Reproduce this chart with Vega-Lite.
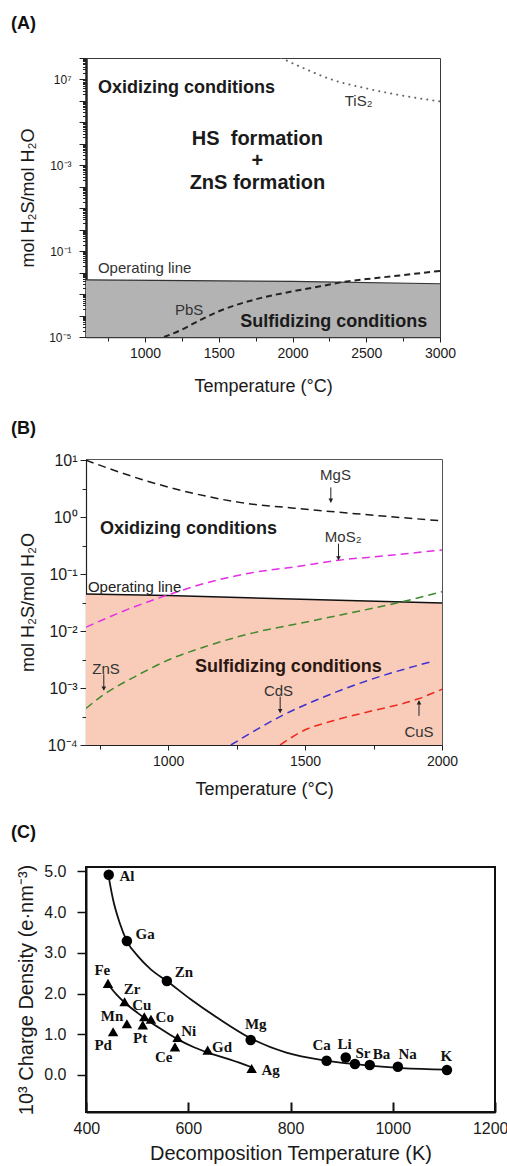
{
  "$schema": "https://vega.github.io/schema/vega-lite/v6.json",
  "padding": {"left": 10, "top": 14, "right": 0, "bottom": 0},
  "background": "white",
  "bounds": "flush",
  "spacing": 122,
  "config": {
    "font": "Liberation Sans",
    "view": {"stroke": null},
    "axis": {"grid": false, "labelFont": "Liberation Sans", "titleFont": "Liberation Sans", "labelColor": "#1a1a1a", "titleColor": "#1a1a1a", "titleFontWeight": "normal", "domainColor": "#222", "tickColor": "#222", "labelFlush": false, "labelOverlap": false},
    "title": {"font": "Liberation Sans", "fontWeight": "bold", "fontSize": 18, "anchor": "start", "frame": "group", "color": "#111", "baseline": "alphabetic"}
  },
  "vconcat": [
    {
      "width": 354, "height": 279,
      "view": {"stroke": "#3a3a3a", "strokeWidth": 1},
      "title": {"text": "(A)", "dx": -75, "offset": 19},
      "encoding": {
        "x": {"field": "x", "type": "quantitative", "scale": {"domain": [600, 3000], "nice": false, "zero": false},
          "axis": {"title": "Temperature (°C)", "titleFontSize": 18, "titleY": 54, "titleBaseline": "alphabetic",
            "values": [750, 1000, 1250, 1500, 1750, 2000, 2250, 2500, 2750, 3000],
            "labelExpr": "datum.value % 500 == 0 ? format(datum.value, 'd') : ''",
            "labelFontSize": 14, "labelPadding": 4,
            "tickSize": {"condition": {"test": "datum.value % 500 == 0", "value": 5}, "value": 4},
            "domainWidth": 1.5, "domainColor": "#3a3a3a"}},
        "y": {"field": "y", "type": "quantitative", "scale": {"type": "log", "domain": [1e-5, 1e8], "nice": false},
          "axis": {"title": "mol H₂S/mol H₂O", "titleFontSize": 18, "titleX": -53, "titleBaseline": "alphabetic",
            "values": [1e-5,2e-5,3e-5,4e-5,5e-5,6e-5,7e-5,8e-5,9e-5,1e-4,2e-4,3e-4,4e-4,5e-4,6e-4,7e-4,8e-4,9e-4,0.001,0.002,0.003,0.004,0.005,0.006,0.007,0.008,0.009,0.01,0.02,0.03,0.04,0.05,0.06,0.07,0.08,0.09,0.1,0.2,0.3,0.4,0.5,0.6,0.7,0.8,0.9,1,2,3,4,5,6,7,8,9,10,20,30,40,50,60,70,80,90,100,200,300,400,500,600,700,800,900,1000,2000,3000,4000,5000,6000,7000,8000,9000,1e4,2e4,3e4,4e4,5e4,6e4,7e4,8e4,9e4,1e5,2e5,3e5,4e5,5e5,6e5,7e5,8e5,9e5,1e6,2e6,3e6,4e6,5e6,6e6,7e6,8e6,9e6,1e7,2e7,3e7,4e7,5e7,6e7,7e7,8e7,9e7,1e8],
            "labelExpr": "datum.value == 1e-5 ? '10⁻⁵' : datum.value == 0.1 ? '10⁻¹' : datum.value == 1000 ? '10⁻³' : datum.value == 1e7 ? '10⁷' : ''",
            "labelFontSize": 12, "labelPadding": 8,
            "tickSize": {"condition": {"test": "abs(log(datum.value)/LN10 - round(log(datum.value)/LN10)) < 0.001", "value": 7}, "value": 3.5},
            "tickWidth": 1, "domainWidth": 2.5, "domainColor": "#222"}}
      },
      "layer": [
        {"data": {"values": [{"x": 600, "y": 0.00462}, {"x": 2000, "y": 0.00389}, {"x": 3000, "y": 0.00302}]},
         "mark": {"type": "area", "color": "#b3b3b3", "opacity": 1},
         "encoding": {"y2": {"datum": 1e-5}}},
        {"data": {"values": [{"x": 600, "y": 0.00462}, {"x": 2000, "y": 0.00389}, {"x": 3000, "y": 0.00302}]},
         "mark": {"type": "line", "color": "#333", "strokeWidth": 1.2}},
        {"data": {"values": [{"x": 1129, "y": 1e-5}, {"x": 1249, "y": 2.2e-5}, {"x": 1377, "y": 6.3e-5}, {"x": 1501, "y": 1.58e-4}, {"x": 1737, "y": 5.4e-4}, {"x": 2001, "y": 1.35e-3}, {"x": 2188, "y": 2.3e-3}, {"x": 2368, "y": 3.9e-3}, {"x": 2503, "y": 5.0e-3}, {"x": 2728, "y": 7.4e-3}, {"x": 3000, "y": 0.012}]},
         "mark": {"type": "line", "color": "#222", "strokeWidth": 2, "strokeDash": [6, 4], "interpolate": "monotone", "clip": true}},
        {"data": {"values": [{"x": 1924, "y": 1e8}, {"x": 2053, "y": 3.9e7}, {"x": 2278, "y": 9.3e6}, {"x": 2503, "y": 3.8e6}, {"x": 2728, "y": 1.86e6}, {"x": 3000, "y": 9.5e5}]},
         "mark": {"type": "line", "color": "#666", "strokeWidth": 2, "strokeDash": [0.1, 6], "strokeCap": "round", "interpolate": "monotone", "clip": true}},
        {"data": {"values": [{"x": 681, "y": 4.2e6, "label": "Oxidizing conditions"}]},
         "mark": {"type": "text", "align": "left", "baseline": "middle", "fontSize": 18, "fontWeight": "bold", "color": "#1a1a1a"},
         "encoding": {"text": {"field": "label"}}},
        {"data": {"values": [{"x": 2279, "y": 5.0e-5, "label": "Sulfidizing conditions"}]},
         "mark": {"type": "text", "align": "center", "baseline": "middle", "fontSize": 18, "fontWeight": "bold", "color": "#1a1a1a"},
         "encoding": {"text": {"field": "label"}}},
        {"data": {"values": [{"x": 1762, "y": 1.6e4, "label": "HS\u00a0\u00a0formation|+|ZnS formation"}]},
         "mark": {"type": "text", "align": "center", "baseline": "middle", "fontSize": 20, "fontWeight": "bold", "lineBreak": "|", "lineHeight": 22, "color": "#1a1a1a"},
         "encoding": {"text": {"field": "label"}}},
        {"data": {"values": [{"x": 681, "y": 0.016, "label": "Operating line"}]},
         "mark": {"type": "text", "align": "left", "baseline": "middle", "fontSize": 15, "color": "#333"},
         "encoding": {"text": {"field": "label"}}},
        {"data": {"values": [{"x": 1299, "y": 1.8e-4, "label": "PbS"}, {"x": 2448, "y": 9.5e5, "label": "TiS₂"}]},
         "mark": {"type": "text", "align": "center", "baseline": "middle", "fontSize": 15, "color": "#333"},
         "encoding": {"text": {"field": "label"}}}
      ]
    },
    {
      "width": 356, "height": 286,
      "view": {"stroke": "#555", "strokeWidth": 1},
      "title": {"text": "(B)", "dx": -75, "offset": 14},
      "encoding": {
        "x": {"field": "x", "type": "quantitative", "scale": {"domain": [700, 2000], "nice": false, "zero": false},
          "axis": {"title": "Temperature (°C)", "titleFontSize": 18, "titleY": 49, "titleBaseline": "alphabetic",
            "values": [750, 1000, 1250, 1500, 1750, 2000],
            "labelExpr": "datum.value % 500 == 0 ? format(datum.value, 'd') : ''",
            "labelFontSize": 14, "labelPadding": 4,
            "tickSize": {"condition": {"test": "datum.value % 500 == 0", "value": 5}, "value": 4},
            "domainWidth": 1.2, "domainColor": "#222"}},
        "y": {"field": "y", "type": "quantitative", "scale": {"type": "log", "domain": [1e-4, 10.5], "nice": false},
          "axis": {"title": "mol H₂S/mol H₂O", "titleFontSize": 18, "titleX": -53, "titleBaseline": "alphabetic",
            "values": [1e-4, 3.162e-4, 0.001, 0.003162, 0.01, 0.03162, 0.1, 0.3162, 1, 3.162, 10],
            "labelExpr": "datum.value == 1e-4 ? '10⁻⁴' : datum.value == 0.001 ? '10⁻³' : datum.value == 0.01 ? '10⁻²' : datum.value == 0.1 ? '10⁻¹' : datum.value == 1 ? '10⁰' : datum.value == 10 ? '10¹' : ''",
            "labelFontSize": 16, "labelPadding": 3,
            "tickSize": {"condition": {"test": "abs(log(datum.value)/LN10 - round(log(datum.value)/LN10)) < 0.001", "value": 6}, "value": 4},
            "domainWidth": 1.2, "domainColor": "#222"}}
      },
      "layer": [
        {"data": {"values": [{"x": 700, "y": 0.045}, {"x": 1000, "y": 0.042}, {"x": 2000, "y": 0.031}]},
         "mark": {"type": "area", "color": "#f8ccb9", "opacity": 1},
         "encoding": {"y2": {"datum": 1e-4}}},
        {"data": {"values": [{"x": 700, "y": 0.045}, {"x": 1000, "y": 0.042}, {"x": 2000, "y": 0.031}]},
         "mark": {"type": "line", "color": "#111", "strokeWidth": 1.5}},
        {"data": {"values": [
          {"s": "MgS", "x": 700, "y": 10}, {"s": "MgS", "x": 901, "y": 4.64}, {"s": "MgS", "x": 1095, "y": 2.6}, {"s": "MgS", "x": 1266, "y": 1.8}, {"s": "MgS", "x": 1460, "y": 1.44}, {"s": "MgS", "x": 1704, "y": 1.13}, {"s": "MgS", "x": 2000, "y": 0.86},
          {"s": "MoS2", "x": 700, "y": 0.0117}, {"s": "MoS2", "x": 852, "y": 0.024}, {"s": "MoS2", "x": 998, "y": 0.043}, {"s": "MoS2", "x": 1144, "y": 0.071}, {"s": "MoS2", "x": 1302, "y": 0.105}, {"s": "MoS2", "x": 1485, "y": 0.139}, {"s": "MoS2", "x": 1622, "y": 0.175}, {"s": "MoS2", "x": 1789, "y": 0.209}, {"s": "MoS2", "x": 2000, "y": 0.266},
          {"s": "ZnS", "x": 700, "y": 4.4e-4}, {"s": "ZnS", "x": 767, "y": 7.8e-4}, {"s": "ZnS", "x": 876, "y": 1.56e-3}, {"s": "ZnS", "x": 998, "y": 3.07e-3}, {"s": "ZnS", "x": 1144, "y": 5.5e-3}, {"s": "ZnS", "x": 1302, "y": 9.1e-3}, {"s": "ZnS", "x": 1485, "y": 0.0138}, {"s": "ZnS", "x": 1667, "y": 0.0209}, {"s": "ZnS", "x": 1850, "y": 0.0324}, {"s": "ZnS", "x": 2000, "y": 0.049},
          {"s": "CdS", "x": 1229, "y": 1e-4}, {"s": "CdS", "x": 1326, "y": 1.9e-4}, {"s": "CdS", "x": 1409, "y": 3.16e-4}, {"s": "CdS", "x": 1546, "y": 6.3e-4}, {"s": "CdS", "x": 1728, "y": 1.35e-3}, {"s": "CdS", "x": 1972, "y": 3.0e-3},
          {"s": "CuS", "x": 1409, "y": 1e-4}, {"s": "CuS", "x": 1485, "y": 1.7e-4}, {"s": "CuS", "x": 1606, "y": 2.7e-4}, {"s": "CuS", "x": 1728, "y": 3.8e-4}, {"s": "CuS", "x": 1911, "y": 6.4e-4}, {"s": "CuS", "x": 2000, "y": 9.5e-4}
        ]},
         "mark": {"type": "line", "strokeWidth": 1.5, "strokeDash": [8, 5], "interpolate": "monotone", "clip": true},
         "encoding": {"color": {"field": "s", "type": "nominal", "scale": {"domain": ["MgS", "MoS2", "ZnS", "CdS", "CuS"], "range": ["#1a1a1a", "#e52ee5", "#3f8a2a", "#3d2fd0", "#f0281e"]}, "legend": null}}},
        {"data": {"values": [{"x": 1594, "y": 3.33, "y2": 1.83}, {"x": 1622, "y": 0.343, "y2": 0.18}, {"x": 765, "y": 1.74e-3, "y2": 9.2e-4}, {"x": 1409, "y": 7.06e-4, "y2": 3.72e-4}, {"x": 1916, "y": 3.25e-4, "y2": 5.9e-4}]},
         "mark": {"type": "rule", "color": "#222", "strokeWidth": 1},
         "encoding": {"y2": {"field": "y2"}}},
        {"data": {"values": [{"x": 1594, "y": 1.95, "dir": "down"}, {"x": 1622, "y": 0.19, "dir": "down"}, {"x": 765, "y": 9.8e-4, "dir": "down"}, {"x": 1409, "y": 3.95e-4, "dir": "down"}, {"x": 1916, "y": 5.6e-4, "dir": "up"}]},
         "mark": {"type": "point", "filled": true, "color": "#222", "size": 22, "opacity": 1},
         "encoding": {"shape": {"field": "dir", "type": "nominal", "scale": {"domain": ["down", "up"], "range": ["triangle-down", "triangle-up"]}, "legend": null}}},
        {"data": {"values": [{"x": 751, "y": 0.63, "label": "Oxidizing conditions"}]},
         "mark": {"type": "text", "align": "left", "baseline": "middle", "fontSize": 18, "fontWeight": "bold", "color": "#1a1a1a"},
         "encoding": {"text": {"field": "label"}}},
        {"data": {"values": [{"x": 1439, "y": 2.3e-3, "label": "Sulfidizing conditions"}]},
         "mark": {"type": "text", "align": "center", "baseline": "middle", "fontSize": 18, "fontWeight": "bold", "color": "#2a1712"},
         "encoding": {"text": {"field": "label"}}},
        {"data": {"values": [{"x": 707, "y": 0.06, "label": "Operating line"}]},
         "mark": {"type": "text", "align": "left", "baseline": "middle", "fontSize": 15, "color": "#222"},
         "encoding": {"text": {"field": "label"}}},
        {"data": {"values": [{"x": 1611, "y": 5.6, "label": "MgS"}, {"x": 1639, "y": 0.457, "label": "MoS₂"}, {"x": 773, "y": 2.2e-3, "label": "ZnS"}, {"x": 1403, "y": 8.7e-4, "label": "CdS"}, {"x": 1916, "y": 1.66e-4, "label": "CuS"}]},
         "mark": {"type": "text", "align": "center", "baseline": "middle", "fontSize": 15, "color": "#333"},
         "encoding": {"text": {"field": "label"}}}
      ]
    },
    {
      "width": 409, "height": 245,
      "view": {"stroke": "#111", "strokeWidth": 2},
      "title": {"text": "(C)", "dx": -75, "offset": 21},
      "encoding": {
        "x": {"field": "x", "type": "quantitative", "scale": {"domain": [400, 1200], "nice": false, "zero": false},
          "axis": {"title": "Decomposition Temperature (K)", "titleFontSize": 20, "titleY": 47, "titleBaseline": "alphabetic",
            "values": [400, 600, 800, 1000, 1200], "format": "d", "labelFontSize": 16, "labelPadding": 18,
            "labelFlush": true, "labelFlushOffset": 13,
            "tickSize": -10, "tickWidth": 2, "tickColor": "#111", "domainWidth": 2, "domainColor": "#111"}},
        "y": {"field": "y", "type": "quantitative", "scale": {"domain": [-0.91, 5.11], "nice": false, "zero": false},
          "axis": {"title": "10³ Charge Density (e·nm⁻³)", "titleFontSize": 20, "titleX": -54, "titleBaseline": "alphabetic",
            "values": [0, 1, 2, 3, 4, 5], "format": ".1f", "labelFontSize": 16, "labelPadding": 11,
            "tickSize": 9, "tickWidth": 1.5, "tickColor": "#111", "domainWidth": 2, "domainColor": "#111"}}
      },
      "layer": [
        {"data": {"values": [
          {"s": "c", "x": 444.5, "y": 4.86}, {"s": "c", "x": 452.9, "y": 4.31}, {"s": "c", "x": 465.8, "y": 3.74}, {"s": "c", "x": 480, "y": 3.29}, {"s": "c", "x": 501.4, "y": 2.92}, {"s": "c", "x": 527.2, "y": 2.59}, {"s": "c", "x": 558.2, "y": 2.31}, {"s": "c", "x": 604.6, "y": 1.86}, {"s": "c", "x": 656.3, "y": 1.41}, {"s": "c", "x": 722.1, "y": 0.9}, {"s": "c", "x": 791.9, "y": 0.55}, {"s": "c", "x": 870.6, "y": 0.35}, {"s": "c", "x": 953.3, "y": 0.23}, {"s": "c", "x": 1017.8, "y": 0.17}, {"s": "c", "x": 1106.3, "y": 0.13},
          {"s": "t", "x": 443, "y": 2.23}, {"s": "t", "x": 459.4, "y": 1.98}, {"s": "t", "x": 475.5, "y": 1.78}, {"s": "t", "x": 501.4, "y": 1.52}, {"s": "t", "x": 527.2, "y": 1.29}, {"s": "t", "x": 553, "y": 1.08}, {"s": "t", "x": 578.8, "y": 0.88}, {"s": "t", "x": 611.1, "y": 0.68}, {"s": "t", "x": 638.2, "y": 0.55}, {"s": "t", "x": 682.1, "y": 0.375}, {"s": "t", "x": 724, "y": 0.19}
        ]},
         "mark": {"type": "line", "color": "#111", "strokeWidth": 1.8, "interpolate": "monotone"},
         "encoding": {"detail": {"field": "s", "type": "nominal"}}},
        {"data": {"values": [{"x": 444.5, "y": 4.92}, {"x": 480, "y": 3.29}, {"x": 558.2, "y": 2.31}, {"x": 722.1, "y": 0.86}, {"x": 870.6, "y": 0.35}, {"x": 908, "y": 0.43}, {"x": 926, "y": 0.27}, {"x": 955, "y": 0.245}, {"x": 1010, "y": 0.2}, {"x": 1106, "y": 0.12}]},
         "mark": {"type": "point", "shape": "circle", "filled": true, "color": "#000", "size": 110, "opacity": 1}},
        {"data": {"values": [{"x": 443, "y": 2.25}, {"x": 475.5, "y": 1.8}, {"x": 514, "y": 1.43}, {"x": 527, "y": 1.37}, {"x": 480, "y": 1.26}, {"x": 511, "y": 1.23}, {"x": 453, "y": 1.06}, {"x": 579, "y": 0.92}, {"x": 574, "y": 0.69}, {"x": 638, "y": 0.61}, {"x": 724, "y": 0.16}]},
         "mark": {"type": "point", "shape": "triangle-up", "filled": true, "color": "#000", "size": 110, "opacity": 1}},
        {"data": {"values": [
          {"x": 480, "y": 4.88, "label": "Al"}, {"x": 515.6, "y": 3.47, "label": "Ga"}, {"x": 591.7, "y": 2.54, "label": "Zn"}, {"x": 432, "y": 2.59, "label": "Fe"}, {"x": 490, "y": 2.12, "label": "Zr"}, {"x": 509, "y": 1.71, "label": "Cu"}, {"x": 554, "y": 1.43, "label": "Co"}, {"x": 451, "y": 1.45, "label": "Mn"}, {"x": 433.6, "y": 0.74, "label": "Pd"}, {"x": 506, "y": 0.9, "label": "Pt"}, {"x": 601, "y": 1.07, "label": "Ni"}, {"x": 552, "y": 0.45, "label": "Ce"}, {"x": 666, "y": 0.68, "label": "Gd"}, {"x": 761, "y": 0.12, "label": "Ag"}, {"x": 732, "y": 1.25, "label": "Mg"}, {"x": 861, "y": 0.73, "label": "Ca"}, {"x": 906, "y": 0.75, "label": "Li"}, {"x": 941.6, "y": 0.54, "label": "Sr"}, {"x": 977.8, "y": 0.51, "label": "Ba"}, {"x": 1029, "y": 0.51, "label": "Na"}, {"x": 1105, "y": 0.47, "label": "K"}
        ]},
         "mark": {"type": "text", "align": "center", "baseline": "middle", "font": "Liberation Serif", "fontSize": 15, "fontWeight": "bold", "color": "#111"},
         "encoding": {"text": {"field": "label"}}}
      ]
    }
  ]
}
